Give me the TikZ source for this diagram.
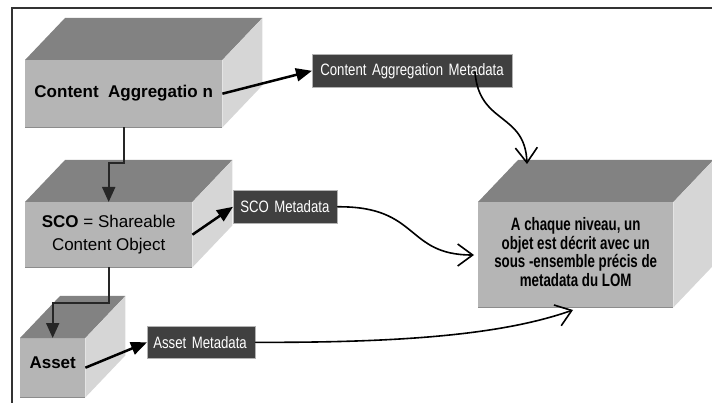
\documentclass[tikz,border=0pt]{standalone}
\usepackage{fontspec}
\setmainfont{Liberation Sans}
\newfontfamily\condf[FakeStretch=0.8]{Liberation Sans}
\newfontfamily\narrowf[FakeStretch=0.74]{Liberation Sans}
\usetikzlibrary{arrows.meta,calc}
\definecolor{frontgray}{HTML}{B5B5B5}
\definecolor{topgray}{HTML}{828282}
\definecolor{sidegray}{HTML}{D6D6D6}
\definecolor{labelgray}{HTML}{404040}
\newcommand\cubefaces[1]{%
  \fill[topgray] (#1.north west) -- ++(40,-42) -- ($(#1.north east)+(40,-42)$) -- (#1.north east) -- cycle;
  \fill[sidegray] (#1.north east) -- ++(40,-42) -- ($(#1.south east)+(40,-42)$) -- (#1.south east) -- cycle;
  \draw[black!45, line width=1pt] (#1.south west) -- (#1.south east);}
\begin{document}
\begin{tikzpicture}[x=1pt,y=-1pt,
  front/.style={fill=frontgray, inner sep=0pt, anchor=north west, align=center,
    font=\fontsize{17}{23}\selectfont},
  meta/.style={fill=labelgray, draw=black!30, line width=0.6pt, text=white, anchor=north west, inner xsep=8pt, inner ysep=0pt,
    minimum height=33pt, align=left, font=\condf\fontsize{16.5}{16.5}\selectfont},
  thickarrow/.style={line width=2.5pt, -{Triangle[length=16pt,width=13pt]}},
  elbow/.style={line width=2pt, draw=black!85, -{Triangle[length=15pt,width=13pt]}},
  curvy/.style={line width=1.6pt, line cap=round, -{Straight Barb[length=15pt,width=22pt,line width=1.6pt]}}]
\useasboundingbox (0,0) rectangle (712,403);
\draw[line width=1.6pt, black!80] (12,403) -- (12,8) -- (712,8);

% cubes
\node[front, minimum width=197pt, minimum height=67pt] (ca) at (25,60) {\raisebox{4pt}{\bfseries Content\ \ Aggregatio n}};
\cubefaces{ca}
\node[front, minimum width=167pt, minimum height=65pt] (sco) at (25,202) {\textbf{SCO} = Shareable\\Content Object};
\cubefaces{sco}
\node[front, minimum width=65pt, minimum height=59pt] (asset) at (20,338) {\raisebox{10pt}{\bfseries Asset}};
\cubefaces{asset}
\node[front, minimum width=195pt, minimum height=105pt, font=\narrowf\bfseries\fontsize{18}{18}\selectfont] (lom) at (478,202)
  {\raisebox{3pt}{\begin{tabular}{@{}c@{}}A chaque niveau, un\\objet est décrit avec un\\sous -ensemble précis de\\metadata du LOM\end{tabular}}};
\cubefaces{lom}

% metadata labels
\node[meta, text width=184pt] (cam) at (312,54) {\mbox{Content Aggregation Metadata}};
\node[meta, text width=90pt, inner xsep=7pt] (scom) at (233,190) {\mbox{SCO Metadata}};
\node[meta, text width=96pt, inner xsep=6pt, minimum height=32pt] (am) at (147,326) {\mbox{Asset Metadata}};

% free ends
\coordinate (camout) at (475,72);
\coordinate (lomtop) at (527,164);
\coordinate (lomleft) at (474,255);
\coordinate (lombottom) at (573,310);

% connectors
\draw[thickarrow] (ca.east) -- (cam.west);
\draw[thickarrow] (sco.east) -- (scom.west);
\draw[thickarrow] (asset.east) -- (am.west);
\draw[elbow] (ca.south) -- ++(0,36) -| (sco.north);
\draw[elbow] (sco.south) -- ++(0,36) -| (asset.north);
\draw[curvy] (camout) .. controls (479,125) and (525,112) .. (lomtop);
\draw[curvy] (scom.east) .. controls (420,206) and (405,255) .. (lomleft);
\draw[curvy] (am.east) .. controls (420,343) and (510,332) .. (lombottom);
\end{tikzpicture}
\end{document}
